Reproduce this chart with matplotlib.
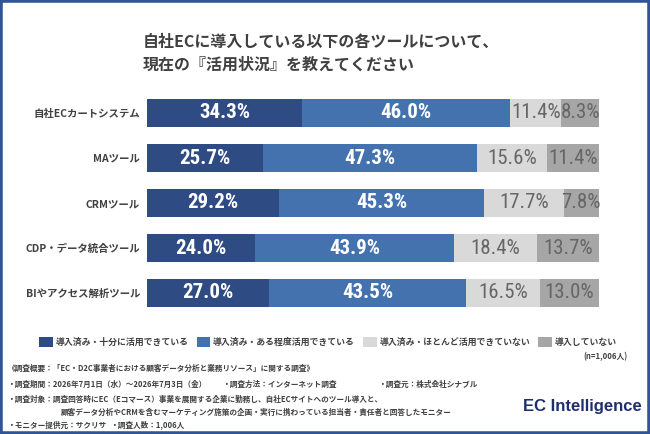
import matplotlib
matplotlib.use("Agg")
import matplotlib.pyplot as plt
from matplotlib.patches import Patch, Rectangle
import numpy as np

plt.rcParams["font.family"] = ["Noto Sans CJK JP", "DejaVu Sans"]

W, H = 650, 434

tools = ["自社ECカートシステム", "MAツール", "CRMツール",
         "CDP・データ統合ツール", "BIやアクセス解析ツール"]
full_use = [34.3, 25.7, 29.2, 24.0, 27.0]
some_use = [46.0, 47.3, 45.3, 43.9, 43.5]
little_use = [11.4, 15.6, 17.7, 18.4, 16.5]
not_adopted = [8.3, 11.4, 7.8, 13.7, 13.0]
series_names = ["導入済み・十分に活用できている", "導入済み・ある程度活用できている",
                "導入済み・ほとんど活用できていない", "導入していない"]

colors = ["#2e4b84", "#4472ae", "#d9d9d9", "#a6a6a6"]
text_colors = ["white", "white", "#666666", "#666666"]
text_weights = ["bold", "bold", "normal", "normal"]
num_font = ["Roboto Condensed", "Liberation Sans", "DejaVu Sans"]
dark = "#404040"


def fx(x):
    return x / W


def fy(y):
    return 1 - y / H


fig = plt.figure(figsize=(W / 100, H / 100), dpi=100)

# bar area: 147..599 px wide, rows every 45 px starting at 90.5
ax = fig.add_axes([fx(147), fy(315.5), (599 - 147) / W, 225 / H])
ypos = np.arange(len(tools))
left = np.zeros(len(tools))
for vals, c, tc, tw in zip([full_use, some_use, little_use, not_adopted],
                           colors, text_colors, text_weights):
    vals = np.array(vals)
    bars = ax.barh(ypos, vals, left=left, height=28 / 45, color=c)
    for b, v in zip(bars, vals):
        ax.text(b.get_x() + b.get_width() / 2, b.get_y() + b.get_height() / 2,
                f"{v:.1f}%", ha="center", va="center", color=tc,
                fontsize=15, fontweight=tw, family=num_font)
    left += vals

ax.set_xlim(0, 100)
ax.set_ylim(len(tools) - 0.5, -0.5)
ax.set_yticks(ypos)
ax.set_yticklabels(tools, fontsize=7.5, fontweight="bold", color=dark)
ax.tick_params(axis="y", length=0, pad=5)
ax.set_xticks([])
for s in ax.spines.values():
    s.set_visible(False)

# title
fig.text(fx(143), fy(42), "自社ECに導入している以下の各ツールについて、",
         fontsize=11.5, fontweight="bold", color=dark, va="center")
fig.text(fx(143), fy(65), "現在の『活用状況』を教えてください",
         fontsize=11.5, fontweight="bold", color=dark, va="center")

# legend
handles = [Patch(facecolor=c, edgecolor="none") for c in colors]
fig.legend(handles, series_names, loc="center", ncol=4,
           bbox_to_anchor=(fx(328), fy(342)), frameon=False,
           prop={"size": 6.4, "weight": "bold"}, labelcolor=dark,
           handlelength=1.55, handleheight=1.35, handletextpad=0.3,
           columnspacing=0.9)

# notes
fig.text(fx(627), fy(357), "(n=1,006人)", fontsize=5.6, color=dark,
         ha="right", va="center", fontweight="bold")
notes = [
    (7, 368, "《調査概要：「EC・D2C事業者における顧客データ分析と業務リソース」に関する調査》"),
    (7, 384, "・調査期間：2026年7月1日（水）〜2026年7月3日（金）"),
    (222, 384, "・調査方法：インターネット調査"),
    (378, 384, "・調査元：株式会社シナブル"),
    (7, 399, "・調査対象：調査回答時にEC（Eコマース）事業を展開する企業に勤務し、自社ECサイトへのツール導入と、"),
    (61, 412, "顧客データ分析やCRMを含むマーケティング施策の企画・実行に携わっている担当者・責任者と回答したモニター"),
    (7, 425, "・モニター提供元：サクリサ"),
    (110, 425, "・調査人数：1,006人"),
]
for x, y, t in notes:
    fig.text(fx(x), fy(y), t, fontsize=5.5, color=dark, va="center",
             fontweight="bold")

fig.text(fx(642), fy(407), "EC Intelligence", fontsize=12, fontweight="bold",
         color="#1f2f6e", ha="right", va="center",
         family=["Liberation Sans", "DejaVu Sans"])

fig.patches.append(Rectangle((0, 0), 1, 1, transform=fig.transFigure,
                             fill=False, edgecolor="#2f5597", linewidth=4))

fig.savefig("out.png", dpi=100)
